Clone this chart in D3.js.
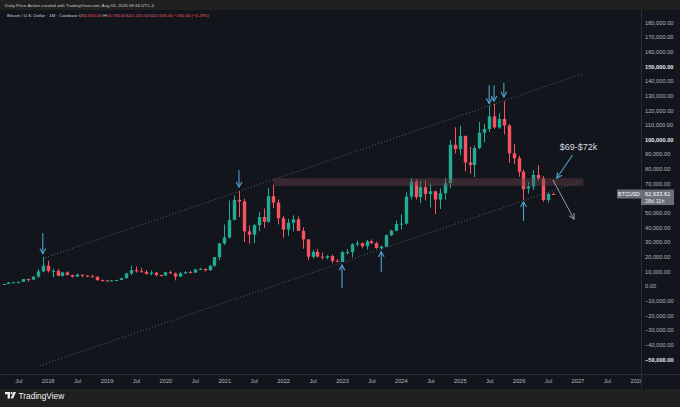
<!DOCTYPE html>
<html><head><meta charset="utf-8">
<script src="https://cdn.jsdelivr.net/npm/d3@7"></script>
<style>
html,body{margin:0;padding:0;background:#202020;}
svg{display:block;font-family:"Liberation Sans",Arial,sans-serif;}
</style>
</head><body>
<svg id="c" width="680" height="407"></svg>
<script>
// ---------- DATA (BTCUSD monthly, values in thousands of USD) ----------
const firstMonth = "2017-04"; // first candle
const opens = [
  1.08,1.35,2.30,2.48,2.87,4.73,4.34,6.45,9.95,
  13.86,10.22,10.32,6.93,9.24,7.50,6.39,7.73,7.01,6.62,6.32,4.02,
  3.74,3.46,3.82,4.10,5.32,8.56,10.82,10.08,9.60,8.30,9.15,7.55,
  7.20,9.35,8.54,6.42,8.63,9.45,9.14,11.35,11.65,10.78,13.80,19.70,
  28.99,33.11,45.14,58.79,57.72,37.30,35.04,41.46,47.10,43.82,61.30,56.95,
  46.21,38.48,43.18,45.54,37.64,31.80,19.94,23.30,20.05,19.43,20.50,17.17,
  16.54,23.13,23.15,28.47,29.25,27.22,30.47,29.23,25.94,26.97,34.65,37.72,
  42.28,42.58,61.13,71.29,60.64,67.49,62.70,64.63,58.97,63.33,70.22,96.45,
  93.43,102.43,84.35,82.55,94.20,104.60,107.17,115.76,108.25,114.05,109.60,90.60,
  87.20,78.00,66.50,68.00,75.80,73.50,58.70,62.81
];
const highs = [
  1.35,2.76,2.98,2.92,4.75,4.98,6.47,11.40,19.89,
  17.25,11.79,11.70,9.77,9.99,7.76,8.50,7.76,7.40,7.68,6.57,4.38,
  4.10,4.20,4.13,5.64,9.09,13.88,13.20,12.33,10.95,10.54,9.51,7.75,
  9.58,10.50,9.19,9.47,10.08,10.39,11.44,12.48,12.07,14.10,19.48,29.30,
  41.95,58.35,61.79,64.86,59.59,41.33,42.23,50.50,52.92,66.99,69.00,59.05,
  47.99,45.82,48.20,47.44,40.05,31.97,24.67,25.21,22.80,20.99,21.47,18.39,
  23.96,25.25,29.19,31.00,29.83,31.44,31.80,30.20,27.50,35.20,38.42,44.70,
  48.97,63.97,73.79,72.80,71.98,71.98,70.00,65.10,66.50,73.62,99.65,108.35,
  109.35,102.80,95.00,95.80,111.90,110.60,123.20,124.45,117.90,126.20,110.60,97.00,
  89.00,79.50,71.00,79.00,82.50,75.00,63.80,63.73
];
const lows = [
  1.08,1.34,2.10,1.83,2.67,2.97,4.11,5.50,9.37,
  9.20,5.90,6.60,6.43,7.05,5.76,6.08,5.88,6.10,6.20,3.55,3.12,
  3.35,3.37,3.72,4.09,5.29,7.44,9.07,9.32,7.71,7.30,6.52,6.43,
  6.87,8.45,3.85,6.15,8.10,8.83,8.99,10.96,9.88,10.37,13.20,17.57,
  28.13,32.30,44.96,47.05,30.00,28.80,29.28,37.33,39.60,43.28,53.25,42.00,
  32.95,34.30,37.17,37.70,25.40,17.60,18.78,19.52,18.16,18.20,15.48,16.26,
  16.50,21.40,19.55,26.94,25.81,24.80,28.86,25.30,24.90,26.56,34.10,37.60,
  38.50,41.88,59.00,59.10,56.55,58.40,53.50,49.00,52.55,58.90,66.80,90.50,
  89.20,78.25,76.60,74.40,93.40,98.20,105.30,107.30,107.30,103.50,84.00,83.00,
  74.60,58.70,63.00,65.50,72.00,57.50,57.00,62.21
];
const closes = [
  1.35,2.30,2.48,2.87,4.73,4.34,6.45,9.95,13.86,
  10.22,10.32,6.93,9.24,7.50,6.39,7.73,7.01,6.62,6.32,4.02,3.74,
  3.46,3.82,4.10,5.32,8.56,10.82,10.08,9.60,8.30,9.15,7.55,7.20,
  9.35,8.54,6.42,8.63,9.45,9.14,11.35,11.65,10.78,13.80,19.70,28.99,
  33.11,45.14,58.79,57.72,37.30,35.04,41.46,47.10,43.82,61.30,56.95,46.21,
  38.48,43.18,45.54,37.64,31.80,19.94,23.30,20.05,19.43,20.50,17.17,16.54,
  23.13,23.15,28.47,29.25,27.22,30.47,29.23,25.94,26.97,34.65,37.72,42.28,
  42.58,61.13,71.29,60.64,67.49,62.70,64.63,58.97,63.33,70.22,96.45,93.43,
  102.43,84.35,82.55,94.20,104.60,107.17,115.76,108.25,114.05,109.60,90.60,87.20,
  78.00,66.00,68.00,75.80,73.50,58.70,62.81,62.63
];
const priceTicks = [-50,-40,-30,-20,-10,0,10,20,30,40,50,70,80,90,100,110,120,130,140,150,160,170,180];
const boldTicks = [150,100,-50];
const timeTickMonths = ["2017-07","2018-01","2018-07","2019-01","2019-07","2020-01","2020-07","2021-01","2021-07","2022-01","2022-07","2023-01","2023-07","2024-01","2024-07","2025-01","2025-07","2026-01","2026-07","2027-01","2027-07","2028-01"];
const timeLabels = ["Jul","2018","Jul","2019","Jul","2020","Jul","2021","Jul","2022","Jul","2023","Jul","2024","Jul","2025","Jul","2026","Jul","2027","Jul","2028"];
// annotations (month, price in k)
const downArrows = [["2017-12",36,22],["2021-04",79,67.6],["2025-07",137,124.6],["2025-08",137,126.2],["2025-10",138.5,129]];
const upArrows = [["2023-01",-1.4,14.3],["2023-09",9.6,23.4],["2026-02",44.4,57.5]];
const zoneMonths = ["2021-11", 109.2]; // start month, end month index
const zonePrices = [68.3, 73.6];
const channelUpper = [[-0.55,19.3],[109.1,144.9]];
const channelLower = [[-1.57,-54.3],[109.1,72.0]];
const zoneLabel = "$69-$72k";
const labelArrow = [[107,89.4],[103.8,73.7]];
const targetArrow = [[103,72.4],[107.3,45.7]];
const lastPrice = 62.63361;

// ---------- helpers ----------
const mi = s => { const [y,m]=s.split("-").map(Number); return (y-2018)*12 + (m-1); };
const m0 = mi(firstMonth);
const candles = opens.map((o,i)=>({m:m0+i,o,h:highs[i],l:lows[i],c:closes[i]}));

const W=680,H=407, plotR=641, plotT=10, plotB=374;
const x = d3.scaleLinear().domain([0,120]).range([47.7, 47.7+120*4.905]);
const y = d3.scaleLinear().domain([-50,180]).range([359.25, 22.3]);

const GREEN="#22ab94", RED="#f7525f", BLUE="#4fa3cf", TXT="#b2b5be";
const svg = d3.select("#c");

svg.append("rect").attr("width",W).attr("height",H).attr("fill","#202020");
svg.append("rect").attr("x",0).attr("y",plotT).attr("width",W).attr("height",389-plotT).attr("fill","#12151c");

const defs = svg.append("defs");
defs.append("clipPath").attr("id","plotclip").append("rect").attr("x",0).attr("y",plotT).attr("width",plotR).attr("height",plotB-plotT);
const plot = svg.append("g").attr("clip-path","url(#plotclip)");

// channel lines
[channelUpper, channelLower].forEach(ln=>{
  plot.append("line")
    .attr("x1",x(ln[0][0])).attr("y1",y(ln[0][1]))
    .attr("x2",x(ln[1][0])).attr("y2",y(ln[1][1]))
    .attr("stroke","#8a8d96").attr("stroke-width",0.9).attr("stroke-dasharray","1,2.2").attr("opacity",0.7);
});

// candles
const cg = plot.append("g");
cg.selectAll("line.w").data(candles).join("line")
  .attr("x1",d=>Math.round(x(d.m))+0.5).attr("x2",d=>Math.round(x(d.m))+0.5)
  .attr("y1",d=>y(d.h)).attr("y2",d=>y(d.l))
  .attr("stroke",d=>d.c>=d.o?GREEN:RED).attr("stroke-width",1);
cg.selectAll("rect.b").data(candles).join("rect")
  .attr("x",d=>Math.round(x(d.m))-1.2).attr("width",3.4)
  .attr("y",d=>y(Math.max(d.o,d.c)))
  .attr("height",d=>Math.max(1,Math.abs(y(d.o)-y(d.c))))
  .attr("fill",d=>d.c>=d.o?GREEN:RED);

// resistance zone
plot.append("rect")
  .attr("x",x(mi(zoneMonths[0]))).attr("width",x(zoneMonths[1])-x(mi(zoneMonths[0])))
  .attr("y",y(zonePrices[1])).attr("height",y(zonePrices[0])-y(zonePrices[1]))
  .attr("fill","#6a4248").attr("opacity",0.42);

// arrows
function arrow(g,x1,y1,x2,y2,col,w){
  g.append("line").attr("x1",x1).attr("y1",y1).attr("x2",x2).attr("y2",y2).attr("stroke",col).attr("stroke-width",w||1.1);
  const a=Math.atan2(y2-y1,x2-x1), L=5.5;
  [a+Math.PI-0.5,a+Math.PI+0.5].forEach(b=>{
    g.append("line").attr("x1",x2).attr("y1",y2).attr("x2",x2+L*Math.cos(b)).attr("y2",y2+L*Math.sin(b))
      .attr("stroke",col).attr("stroke-width",w||1.1).attr("stroke-linecap","round");
  });
}
const ag = plot.append("g");
downArrows.forEach(d=>arrow(ag,x(mi(d[0])),y(d[1]),x(mi(d[0])),y(d[2]),BLUE));
upArrows.forEach(d=>arrow(ag,x(mi(d[0])),y(d[1]),x(mi(d[0])),y(d[2]),BLUE));
arrow(ag,x(labelArrow[0][0]),y(labelArrow[0][1]),x(labelArrow[1][0]),y(labelArrow[1][1]),BLUE);
arrow(ag,x(targetArrow[0][0]),y(targetArrow[0][1]),x(targetArrow[1][0]),y(targetArrow[1][1]),"#a9acb5",0.9);
plot.append("text").attr("x",x(104.4)).attr("y",y(92.6)).attr("fill","#d8dae0")
  .attr("font-size",9).text(zoneLabel);

// borders
svg.append("line").attr("x1",plotR+0.5).attr("x2",plotR+0.5).attr("y1",plotT).attr("y2",389).attr("stroke","#2a2e39");
svg.append("line").attr("x1",0).attr("x2",W).attr("y1",plotB+0.5).attr("y2",plotB+0.5).attr("stroke","#2a2e39");

// price axis
const fmt = d3.format(",.2f");
const ya = svg.append("g").attr("transform",`translate(${plotR},0)`)
  .call(d3.axisRight(y).tickValues(priceTicks).tickSize(0).tickPadding(4).tickFormat(v=>fmt(v*1000)));
ya.select(".domain").remove();
ya.selectAll("text").attr("fill",d=>boldTicks.includes(d)?"#e6e8ee":TXT)
  .attr("font-weight",d=>boldTicks.includes(d)?"bold":"normal")
  .attr("font-size",5.7).attr("font-family","Liberation Sans, Arial, sans-serif");

// time axis
defs.append("clipPath").attr("id","tclip").append("rect").attr("x",0).attr("y",plotB).attr("width",plotR).attr("height",15);
const xa = svg.append("g").attr("clip-path","url(#tclip)").append("g").attr("transform",`translate(0,${plotB})`)
  .call(d3.axisBottom(x).tickValues(timeTickMonths.map(mi)).tickSize(0).tickPadding(5).tickFormat((d,i)=>timeLabels[i]));
xa.select(".domain").remove();
xa.selectAll("text").attr("fill",TXT).attr("font-size",5.7).attr("font-family","Liberation Sans, Arial, sans-serif");

// last price tag
const ly = y(lastPrice);
svg.append("rect").attr("x",617).attr("y",ly-4.7).attr("width",24).attr("height",9).attr("fill","#6b6e79");
svg.append("text").attr("x",629).attr("y",ly+1.9).attr("text-anchor","middle").attr("fill","#fff").attr("font-size",5.3).text("BTCUSD");
svg.append("rect").attr("x",641).attr("y",ly-4.7).attr("width",33).attr("height",15.5).attr("fill","#6b6e79");
svg.append("text").attr("x",645).attr("y",ly+1.9).attr("fill","#fff").attr("font-size",5.7).text(fmt(lastPrice*1000));
svg.append("text").attr("x",645).attr("y",ly+9).attr("fill","#e8e8ec").attr("font-size",5.5).text("28d 11h");

// header
svg.append("text").attr("x",5).attr("y",6.8).attr("fill","#c8cad0").attr("font-size",4.4)
  .text("Daily-Price-Action created with TradingView.com, Aug 03, 2026 09:34 UTC-4");
const lg = svg.append("text").attr("x",7).attr("y",17).attr("font-size",4.4).attr("fill","#d1d4dc");
lg.append("tspan").text("Bitcoin / U.S. Dollar · 1M · Coinbase  ");
const ohlc = [["O",opens],["H",highs],["L",lows],["C",closes]];
ohlc.forEach(([k,arr])=>{
  lg.append("tspan").attr("fill","#d1d4dc").text(k);
  lg.append("tspan").attr("fill",RED).text(fmt(arr[arr.length-1]*1000)+"  ");
});
const chg = closes[closes.length-1]-opens[opens.length-1];
lg.append("tspan").attr("fill",RED).text(fmt(chg*1000)+" ("+d3.format(".2%")(chg/opens[opens.length-1])+")");

// footer logo
const fg = svg.append("g").attr("transform","translate(5,392)");
fg.append("path").attr("d","M0,0 H5 V6.5 H2.6 V2.2 H0 Z").attr("fill","#f0f0f0");
fg.append("circle").attr("cx",6.6).attr("cy",1.2).attr("r",1.1).attr("fill","#f0f0f0");
fg.append("path").attr("d","M8.5,0 H11 L8,6.5 H5.6 Z").attr("fill","#f0f0f0");
svg.append("text").attr("x",18.5).attr("y",399).attr("fill","#f0f0f0").attr("font-size",8.3).text("TradingView");
</script>
</body></html>
